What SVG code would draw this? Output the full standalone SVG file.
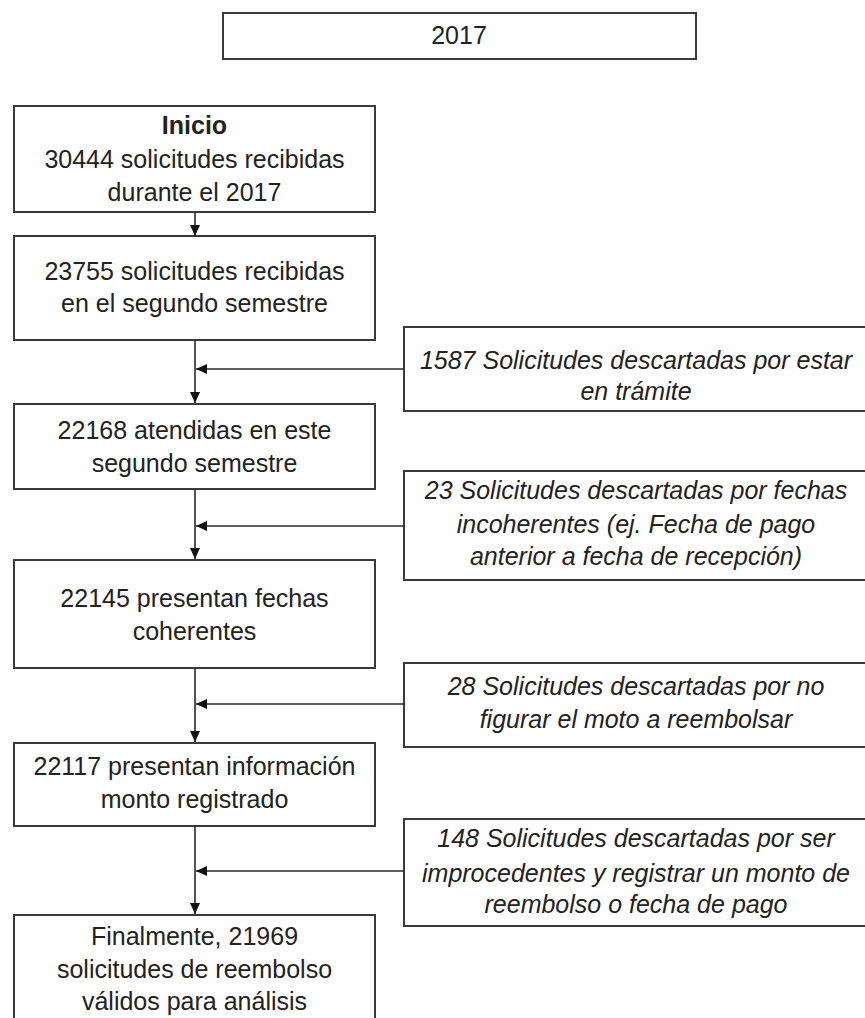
<svg xmlns="http://www.w3.org/2000/svg" width="865" height="1018" viewBox="0 0 865 1018">
  <style>
    .box { fill: #ffffff; stroke: #3a3a3a; stroke-width: 2; }
    .txt { font-family: "Liberation Sans", Arial, sans-serif; font-size: 25px; fill: #222222; text-anchor: middle; }
    .note { font-style: italic; }
    .bold { font-weight: bold; }
    .link { stroke: #2a2a2a; stroke-width: 1.6; fill: none; }
  </style>
  <defs>
    <marker id="arrow" markerWidth="11" markerHeight="10" refX="11" refY="5" orient="auto" markerUnits="userSpaceOnUse">
      <path d="M0,0 L11,5 L0,10 z" fill="#111111"/>
    </marker>
  </defs>

  <rect width="865" height="1018" fill="#ffffff"/>

  <!-- Year header -->
  <g id="year">
    <rect class="box" x="223" y="13" width="473" height="46"/>
    <text class="txt" x="459" y="44">2017</text>
  </g>

  <!-- Main flow (left column) -->
  <g id="inicio">
    <rect class="box" x="14" y="106" width="361" height="106"/>
    <text class="txt bold" x="194.5" y="134">Inicio</text>
    <text class="txt" x="194.5" y="168">30444 solicitudes recibidas</text>
    <text class="txt" x="194.5" y="201">durante el 2017</text>
  </g>

  <g id="segundo-semestre">
    <rect class="box" x="14" y="236" width="361" height="104"/>
    <text class="txt" x="194.5" y="280">23755 solicitudes recibidas</text>
    <text class="txt" x="194.5" y="312">en el segundo semestre</text>
  </g>

  <g id="atendidas">
    <rect class="box" x="14" y="404" width="361" height="85"/>
    <text class="txt" x="194.5" y="439">22168 atendidas en este</text>
    <text class="txt" x="194.5" y="472">segundo semestre</text>
  </g>

  <g id="fechas-coherentes">
    <rect class="box" x="14" y="560" width="361" height="108"/>
    <text class="txt" x="194.5" y="607">22145 presentan fechas</text>
    <text class="txt" x="194.5" y="640">coherentes</text>
  </g>

  <g id="monto-registrado">
    <rect class="box" x="14" y="743" width="361" height="83"/>
    <text class="txt" x="194.5" y="775">22117 presentan información</text>
    <text class="txt" x="194.5" y="808">monto registrado</text>
  </g>

  <g id="validos">
    <rect class="box" x="14" y="915" width="361" height="110"/>
    <text class="txt" x="194.5" y="945">Finalmente, 21969</text>
    <text class="txt" x="194.5" y="978">solicitudes de reembolso</text>
    <text class="txt" x="194.5" y="1010">válidos para análisis</text>
  </g>

  <!-- Exclusions (right column) -->
  <g id="excl-tramite">
    <rect class="box" x="404" y="327" width="466" height="84"/>
    <text class="txt note" x="636" y="369">1587 Solicitudes descartadas por estar</text>
    <text class="txt note" x="636" y="400">en trámite</text>
  </g>

  <g id="excl-fechas">
    <rect class="box" x="404" y="471" width="466" height="109"/>
    <text class="txt note" x="636" y="499">23 Solicitudes descartadas por fechas</text>
    <text class="txt note" x="636" y="533">incoherentes (ej. Fecha de pago</text>
    <text class="txt note" x="636" y="565">anterior a fecha de recepción)</text>
  </g>

  <g id="excl-monto">
    <rect class="box" x="404" y="663" width="466" height="84"/>
    <text class="txt note" x="636" y="695">28 Solicitudes descartadas por no</text>
    <text class="txt note" x="636" y="728">figurar el moto a reembolsar</text>
  </g>

  <g id="excl-improcedentes">
    <rect class="box" x="404" y="819" width="466" height="107"/>
    <text class="txt note" x="636" y="847">148 Solicitudes descartadas por ser</text>
    <text class="txt note" x="636" y="882">improcedentes y registrar un monto de</text>
    <text class="txt note" x="636" y="913">reembolso o fecha de pago</text>
  </g>

  <!-- Connectors -->
  <g id="connectors">
    <line class="link" x1="195" y1="212" x2="195" y2="236" marker-end="url(#arrow)"/>
    <line class="link" x1="195" y1="340" x2="195" y2="403" marker-end="url(#arrow)"/>
    <line class="link" x1="404" y1="369" x2="196" y2="369" marker-end="url(#arrow)"/>
    <line class="link" x1="195" y1="489" x2="195" y2="559" marker-end="url(#arrow)"/>
    <line class="link" x1="404" y1="526" x2="196" y2="526" marker-end="url(#arrow)"/>
    <line class="link" x1="195" y1="668" x2="195" y2="742" marker-end="url(#arrow)"/>
    <line class="link" x1="404" y1="704" x2="196" y2="704" marker-end="url(#arrow)"/>
    <line class="link" x1="195" y1="826" x2="195" y2="914" marker-end="url(#arrow)"/>
    <line class="link" x1="404" y1="871" x2="196" y2="871" marker-end="url(#arrow)"/>
  </g>
</svg>
